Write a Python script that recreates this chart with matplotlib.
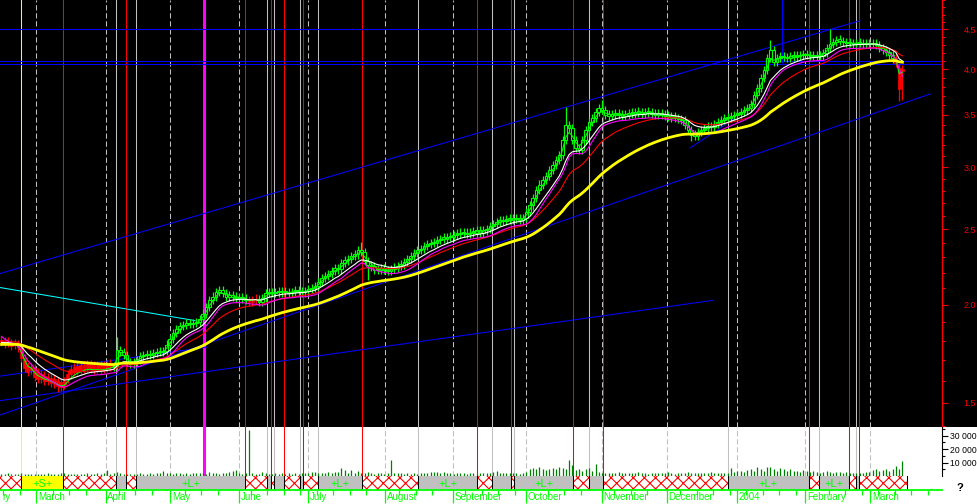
import numpy as np
import matplotlib
matplotlib.use("Agg")
import matplotlib.pyplot as plt
from matplotlib.patches import Rectangle
from matplotlib.ticker import FixedLocator, NullFormatter, FixedFormatter, NullLocator

plt.rcParams['font.family'] = ['Liberation Sans', 'DejaVu Sans']
plt.rcParams['hatch.linewidth'] = 0.8

# ---------------- data (daily, trading-day index) ----------------
closes = [
    1.795, 1.785, 1.79, 1.775, 1.78, 1.765, 1.71, 1.66, 1.64, 1.65,
    1.62, 1.61, 1.61, 1.60, 1.60, 1.59, 1.585, 1.575, 1.57, 1.58,
    1.61, 1.63, 1.64, 1.645, 1.65, 1.655, 1.66, 1.655, 1.65, 1.655,
    1.65, 1.655, 1.66, 1.665, 1.67, 1.75, 1.74, 1.725, 1.69, 1.68,
    1.69, 1.70, 1.72, 1.725, 1.73, 1.725, 1.735, 1.74, 1.74, 1.745,
    1.78, 1.81, 1.84, 1.865, 1.88, 1.885, 1.895, 1.89, 1.895, 1.90,
    1.92, 1.95, 1.99, 2.03, 2.05, 2.08, 2.09, 2.07, 2.05, 2.06,
    2.05, 2.04, 2.045, 2.035, 2.03, 2.02, 2.03, 2.035, 2.015, 2.04,
    2.07, 2.08, 2.07, 2.08, 2.075, 2.085, 2.075, 2.07, 2.08, 2.085,
    2.08, 2.075, 2.085, 2.095, 2.10, 2.115, 2.14, 2.165, 2.18, 2.19,
    2.21, 2.23, 2.22, 2.26, 2.28, 2.29, 2.31, 2.32, 2.35, 2.34,
    2.275, 2.25, 2.24, 2.215, 2.215, 2.23, 2.215, 2.21, 2.225, 2.23,
    2.245, 2.25, 2.27, 2.29, 2.31, 2.33, 2.35, 2.36, 2.38, 2.39,
    2.40, 2.40, 2.42, 2.43, 2.43, 2.445, 2.44, 2.46, 2.465, 2.47,
    2.47, 2.465, 2.475, 2.475, 2.49, 2.475, 2.49, 2.50, 2.52, 2.535,
    2.55, 2.57, 2.56, 2.575, 2.57, 2.585, 2.575, 2.57, 2.585, 2.63,
    2.68, 2.74, 2.805, 2.85, 2.89, 2.92, 2.975, 3.02, 3.06, 3.11,
    3.25, 3.395, 3.37, 3.25, 3.17, 3.155, 3.25, 3.345, 3.43, 3.47,
    3.53, 3.57, 3.55, 3.50, 3.49, 3.50, 3.51, 3.50, 3.49, 3.50,
    3.52, 3.51, 3.53, 3.52, 3.51, 3.52, 3.53, 3.51, 3.50, 3.51,
    3.50, 3.49, 3.48, 3.47, 3.47, 3.455, 3.445, 3.395, 3.345, 3.30,
    3.29, 3.33, 3.345, 3.365, 3.385, 3.375, 3.405, 3.425, 3.445, 3.465,
    3.465, 3.485, 3.50, 3.51, 3.53, 3.55, 3.57, 3.61, 3.71, 3.785,
    3.90, 3.99, 4.135, 4.235, 4.09, 4.135, 4.16, 4.145, 4.135, 4.16,
    4.15, 4.16, 4.17, 4.18, 4.17, 4.16, 4.17, 4.16, 4.16, 4.20,
    4.26, 4.31, 4.335, 4.36, 4.35, 4.335, 4.32, 4.32, 4.31, 4.32,
    4.32, 4.31, 4.31, 4.32, 4.31, 4.30, 4.26, 4.235, 4.21, 4.17,
    4.13, 4.08, 3.78, 3.98,
]
# opens of the early (red) candles, days 0-33
opens_early = [
    1.80, 1.80, 1.795, 1.79, 1.785, 1.78, 1.765, 1.71, 1.67, 1.665,
    1.66, 1.64, 1.63, 1.625, 1.62, 1.615, 1.61, 1.60, 1.595, 1.60,
    1.63, 1.655, 1.665, 1.67, 1.675, 1.675, 1.68, 1.68, 1.675, 1.675,
    1.675, 1.675, 1.68, 1.685,
]
opens_override = {272: 4.02, 273: 4.00}
highs_override = {35: 1.82, 109: 2.41, 171: 3.58, 182: 3.655, 233: 4.36, 251: 4.50}
lows_override = {17: 1.55, 111: 2.15, 209: 3.24, 272: 3.64, 273: 3.66}
red_days = list(range(0, 34)) + [75, 76, 77, 271, 272, 273]

volume_k = [
    1.5, 1.2, 2.0, 1.8, 1.5, 1.4, 2.2, 1.6, 1.8, 1.5,
    1.4, 1.8, 1.5, 1.6, 2.0, 1.3, 1.7, 1.5, 2.2, 1.9,
    1.6, 1.5, 1.4, 1.8, 1.6, 1.5, 2.0, 1.6, 1.8, 2.1,
    1.8, 2.0, 4.2, 1.6, 2.5, 3.0, 2.0, 1.5, 1.8, 1.5,
    1.6, 1.8, 2.0, 1.5, 1.7, 2.2, 1.8, 2.0, 2.4, 3.5,
    2.0, 2.2, 1.8, 2.0, 2.5, 1.6, 2.0, 1.8, 2.2, 2.0,
    2.4, 2.0, 1.8, 2.6, 2.2, 2.0, 1.8, 2.4, 2.0, 3.0,
    4.0, 4.5, 2.0, 1.8, 2.2, 34.0, 2.0, 1.6, 1.8, 3.0,
    2.0, 1.8, 1.6, 2.2, 1.8, 2.0, 1.6, 2.0, 1.8, 2.0,
    1.8, 2.0, 2.2, 2.0, 2.6, 3.2, 2.2, 2.4, 2.0, 2.6,
    2.5, 2.8, 3.0, 6.0, 4.5, 2.0, 4.5, 2.2, 3.5, 2.0,
    2.5, 3.0, 2.0, 1.8, 2.2, 2.0, 1.8, 2.5, 11.5, 2.0,
    2.2, 2.0, 1.8, 2.0, 1.6, 2.2, 1.8, 2.0, 2.0, 2.4,
    2.8, 3.0, 2.6, 2.2, 3.2, 2.0, 2.2, 1.8, 2.0, 2.2,
    2.0, 1.8, 2.2, 2.0, 1.6, 2.0, 2.2, 2.4, 2.0, 3.0,
    3.8, 2.2, 2.0, 2.4, 2.0, 2.2, 2.0, 1.8, 2.5, 3.0,
    5.5, 6.0, 5.0, 6.5, 5.5, 4.5, 5.0, 6.0, 5.5, 6.5,
    6.0, 5.0, 12.0, 8.0, 4.5, 5.0, 4.0, 5.5, 6.0, 4.0,
    9.0, 3.0, 2.5, 2.0, 2.2, 2.5, 2.0, 2.8, 2.2, 2.0,
    2.4, 2.0, 2.2, 2.6, 2.0, 2.2, 1.8, 2.4, 2.0, 2.2,
    2.0, 2.2, 2.6, 2.0, 1.8, 2.4, 2.0, 2.2, 2.8, 2.4,
    2.2, 2.0, 2.4, 2.2, 2.0, 2.6, 2.2, 2.0, 2.4, 2.2,
    2.5, 6.0, 3.0, 4.0, 3.5, 3.0, 4.5, 5.0, 4.0, 6.5,
    5.0, 4.0, 7.0, 6.5, 5.0, 4.0, 6.0, 5.0, 3.5, 5.0,
    4.0, 3.5, 3.0, 4.5, 3.5, 3.0, 4.0, 3.0, 2.5, 3.0,
    3.5, 3.0, 2.5, 3.0, 2.8, 2.5, 3.0, 2.5, 2.0, 2.2,
    2.5, 2.0, 2.8, 3.0, 4.5, 5.0, 3.5, 4.5, 5.5, 4.0,
    5.0, 7.5, 5.5, 11.0,
]

# moving-average start values read at the left edge
ma_start = {'green': 1.79, 'white': 1.79, 'red': 1.80, 'magenta': 1.84, 'yellow': 1.78}

# month boundaries (trading-day position) and labels
month_pos = [10.45, 31.52, 51.15, 72.06, 92.97, 116.12, 136.82, 158.79,
             181.85, 201.58, 222.76, 243.61, 263.3]
month_labels = ["March", "April", "May", "June", "July", "August", "September",
                "October", "November", "December", "2004", "February", "March"]

# signal lines (trading-day position)
yellow_sig = [5.91]
red_sig = [18.73, 37.82, 73.88, 81.67, 85.61, 91.45, 109.33, 144.18, 154.24,
           173.27, 182.36, 244.79, 256.91, 259.94]
gray_sig = [34.79, 40.85, 80.55, 82.67, 90.55, 95.82, 126.3, 148.55, 155.39,
            178.12, 220.0, 247.82, 258.79]
magenta_sig = [61.36]
blue_sig = [(236.6, 4.08)]
strip_end = 274.3

# drawn trend lines: (day0, price0, day1, price1)
blue_lines = [(-1, 2.19, 260.15, 4.615),
              (-1, 1.444, 281.4, 3.72),
              (-1, 1.508, 215.5, 2.027),
              (-1, 1.621, 62.3, 1.767),
              (208.6, 3.173, 222.3, 3.466)]
cyan_lines = [(-1, 2.107, 58.6, 1.91)]
blue_levels = [4.5, 4.094, 4.058]

price_ticks = [1.5, 2.0, 2.5, 3.0, 3.5, 4.0, 4.5]
price_minor = [1.4, 1.6, 1.7, 1.8, 1.9, 2.1, 2.2, 2.3, 2.4, 2.6, 2.7, 2.8, 2.9,
               3.1, 3.2, 3.3, 3.4, 3.6, 3.7, 3.8, 3.9, 4.1, 4.2, 4.3, 4.4,
               4.6, 4.7, 4.8, 4.9]
vol_ticks = [10000, 20000, 30000]
vol_labels = ["10 000", "20 000", "30 000"]

# ---------------- derived series ----------------
N = len(closes)
days = np.arange(N)
c = np.array(closes, dtype=float)
o = np.concatenate([[closes[0]], c[:-1]])
o[:len(opens_early)] = opens_early
for d, v in opens_override.items():
    o[d] = v
body_lo = np.minimum(o, c)
body_hi = np.maximum(np.maximum(o, c), body_lo * 1.004)
hi = body_hi * 1.012
lo = body_lo * 0.988
for d, v in highs_override.items():
    hi[d] = v
for d, v in lows_override.items():
    lo[d] = v
is_red = np.isin(days, red_days)
vol = np.array(volume_k) * 1000.0


def ema(vals, span, init):
    a = 2.0 / (span + 1.0)
    out = np.empty(len(vals))
    prev = init
    for k, v in enumerate(vals):
        prev = a * v + (1 - a) * prev
        out[k] = prev
    return out


ma_green = ema(c, 3, ma_start['green'])
ma_white = ema(c, 10, ma_start['white'])
ma_red = ema(c, 20, ma_start['red'])
ma_mag = ema(lo, 7, ma_start['magenta'])
ma_yel = ema(c, 46, ma_start['yellow'])

# ---------------- figure ----------------
W, H = 977, 504
fig = plt.figure(figsize=(W / 100, H / 100), dpi=100)
fig.patch.set_facecolor('black')
fig.patches.append(Rectangle((0, 0), 1, 77 / H, transform=fig.transFigure,
                             facecolor='white', edgecolor='none', zorder=-5))

AXW = 941.7 / W
XL = (-0.4545, 284.9)
ax = fig.add_axes([0, 1 - 427 / H, AXW, 427 / H])
axv = fig.add_axes([0, 1 - 476 / H, AXW, 49 / H])
axs = fig.add_axes([0, 1 - 490 / H, AXW, 14 / H])

GREEN = '#00FF00'
GRAY = '#C0C0C0'
DASH = (0, (5, 2.7))
LW1 = 0.75

# ---- price panel ----
ax.set_facecolor('black')
ax.set_yscale('log')
for a_ in (ax, axv):
    for d in month_pos:
        a_.axvline(d, color=GRAY, lw=LW1, ls=DASH, zorder=1)
    for d in gray_sig:
        a_.axvline(d, color=GRAY, lw=LW1, zorder=1)
    for d in red_sig:
        a_.axvline(d, color='#FF0000', lw=LW1, zorder=1)
    for d in yellow_sig:
        a_.axvline(d, color='#FFFF00', lw=LW1, zorder=1)
    for d in magenta_sig:
        a_.axvline(d, color='#FF00FF', lw=2.2, zorder=1)

for d, p in blue_sig:
    ax.vlines(d, p, 10, color='#0000FF', lw=LW1, zorder=2)
for p in blue_levels:
    ax.axhline(p, color='#0000FF', lw=LW1, zorder=2)
for x0, p0, x1, p1 in blue_lines:
    ax.plot([x0, x1], [p0, p1], color='#0000FF', lw=LW1, zorder=2)
for x0, p0, x1, p1 in cyan_lines:
    ax.plot([x0, x1], [p0, p1], color='#00FFFF', lw=LW1, zorder=2)

# candles
g = ~is_red
ax.vlines(days[g], lo[g], hi[g], color=GREEN, lw=0.9, zorder=3)
ax.vlines(days[is_red], lo[is_red], hi[is_red], color='#FF0000', lw=0.9, zorder=3)
ax.bar(days[g], body_hi[g] - body_lo[g], bottom=body_lo[g], width=0.8,
       facecolor='black', edgecolor=GREEN, linewidth=0.8, zorder=4)
ax.bar(days[is_red], body_hi[is_red] - body_lo[is_red], bottom=body_lo[is_red],
       width=0.9, facecolor='#FF0000', edgecolor='#FF0000', linewidth=0.5, zorder=4)

# moving averages
ax.plot(days, ma_green, color=GREEN, lw=0.8, zorder=5)
ax.plot(days, ma_red, color='#FF0000', lw=0.8, zorder=5)
ax.plot(days, ma_mag, color='#FF00FF', lw=0.8, zorder=5)
ax.plot(days, ma_white, color='white', lw=0.8, zorder=5)
ax.plot(days, ma_yel, color='#FFFF00', lw=2.0, zorder=6)

ax.set_xlim(*XL)
ax.set_ylim(1.3966, 4.905)
for s in ('left', 'top', 'bottom'):
    ax.spines[s].set_visible(False)
ax.spines['right'].set_color('#FF0000')
ax.spines['right'].set_linewidth(1.0)
ax.xaxis.set_major_locator(NullLocator())
ax.xaxis.set_minor_locator(NullLocator())
ax.yaxis.tick_right()
ax.yaxis.set_major_locator(FixedLocator(price_ticks))
ax.yaxis.set_major_formatter(FixedFormatter(["%.1f" % t for t in price_ticks]))
ax.yaxis.set_minor_locator(FixedLocator(price_minor))
ax.yaxis.set_minor_formatter(NullFormatter())
ax.tick_params(axis='y', which='major', length=4.3, width=0.8, colors='#FF0000',
               labelsize=6.4, pad=11.5)
ax.tick_params(axis='y', which='minor', length=2.4, width=0.8, colors='#FF0000')

# ---- volume panel ----
axv.set_facecolor('white')
axv.vlines(days, 0, vol, color='#008000', lw=0.9, zorder=3)
axv.set_xlim(*XL)
axv.set_ylim(0, 36300)
for s in ('left', 'top', 'bottom'):
    axv.spines[s].set_visible(False)
axv.spines['right'].set_color('black')
axv.spines['right'].set_linewidth(0.8)
axv.xaxis.set_major_locator(NullLocator())
axv.yaxis.tick_right()
axv.yaxis.set_major_locator(FixedLocator(vol_ticks))
axv.yaxis.set_major_formatter(FixedFormatter(vol_labels))
axv.yaxis.set_minor_locator(FixedLocator([5000, 15000, 25000, 35000]))
axv.tick_params(axis='y', which='major', length=4.3, width=0.8, colors='black',
                labelsize=6.2, pad=1.4)
axv.tick_params(axis='y', which='minor', length=2.4, width=0.8, colors='black')

# ---- signal strip + date axis ----
axs.set_facecolor('white')
axs.set_xlim(*XL)
axs.set_ylim(0, 1)
events = sorted([(d, 'short') for d in yellow_sig] + [(d, 'hatch') for d in red_sig] +
                [(d, 'long') for d in gray_sig])
bounds = [XL[0]] + [e[0] for e in events] + [strip_end]
states = ['hatch'] + [e[1] for e in events]
for k, st in enumerate(states):
    x0, x1 = bounds[k], bounds[k + 1]
    if st == 'hatch':
        axs.add_patch(Rectangle((x0, 0), x1 - x0, 1, facecolor='white', edgecolor='#FF0000',
                                hatch='xxx', linewidth=0, zorder=1))
    else:
        fc = GRAY if st == 'long' else '#FFFF00'
        axs.add_patch(Rectangle((x0, 0), x1 - x0, 1, facecolor=fc, edgecolor='none', zorder=1))
        if (x1 - x0) > 7.5:
            axs.text((x0 + x1) / 2, 0.45, '+L+' if st == 'long' else '+S+', color=GREEN,
                     ha='center', va='center', fontsize=8.0, zorder=3)
for x in bounds[1:]:
    axs.axvline(x, color='black', lw=LW1, zorder=2)

for s in ('left', 'top', 'right'):
    axs.spines[s].set_visible(False)
axs.spines['bottom'].set_color(GREEN)
axs.spines['bottom'].set_linewidth(1.3)
axs.set_yticks([])
weekly = [d for d in np.arange(0.6, 285, 5.0) if min(abs(d - m) for m in month_pos) > 2]
axs.xaxis.set_major_locator(FixedLocator(month_pos))
axs.xaxis.set_major_formatter(NullFormatter())
axs.xaxis.set_minor_locator(FixedLocator(weekly))
axs.tick_params(axis='x', which='major', length=9.5, width=0.9, colors=GREEN, direction='out')
axs.tick_params(axis='x', which='minor', length=3.6, width=0.9, colors=GREEN, direction='out')
for pos, lbl in zip(month_pos, month_labels):
    axs.annotate(lbl, xy=(pos, 0), xycoords=('data', 'axes fraction'), xytext=(1.3, -5.0),
                 textcoords='offset points', ha='left', va='center', color=GREEN,
                 fontsize=7.0, annotation_clip=False)
axs.annotate("ry", xy=(XL[0], 0), xycoords=('data', 'axes fraction'), xytext=(2.0, -5.0),
             textcoords='offset points', ha='left', va='center', color=GREEN,
             fontsize=7.0, annotation_clip=False)

fig.text(960 / W, 1 - 488 / H, "?", color='black', fontsize=8, fontweight='bold',
         ha='center', va='center')

fig.savefig("out.png", dpi=100, facecolor=fig.get_facecolor())
